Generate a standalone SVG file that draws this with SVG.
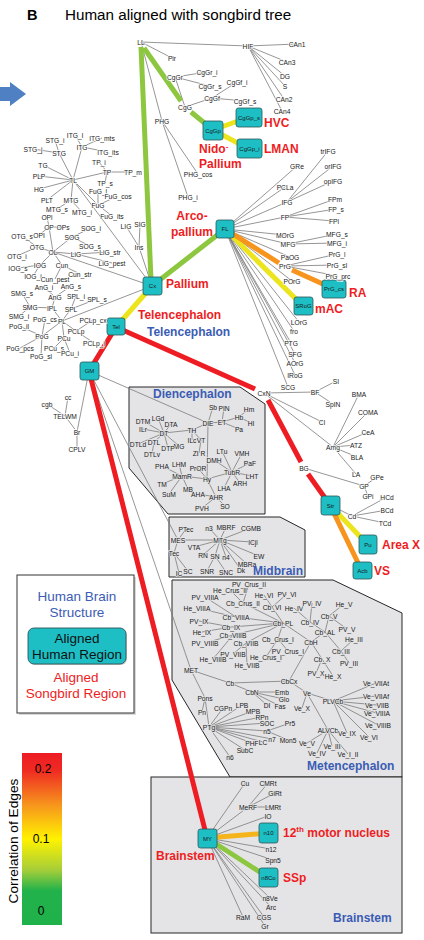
<svg xmlns="http://www.w3.org/2000/svg" width="424" height="940" viewBox="0 0 424 940">
<defs>
<linearGradient id="cbar" x1="0" y1="0" x2="0" y2="1">
<stop offset="0" stop-color="#ed1c24"/><stop offset="0.1" stop-color="#ef2a22"/><stop offset="0.3" stop-color="#f7941d"/><stop offset="0.5" stop-color="#fff200"/><stop offset="0.68" stop-color="#a6ce39"/><stop offset="0.8" stop-color="#22b24b"/><stop offset="1" stop-color="#1fb14a"/>
</linearGradient>
<style>
.t{font-family:"Liberation Sans",Arial,sans-serif;font-size:6.7px;fill:#1a1a1a;text-anchor:middle;dominant-baseline:central;paint-order:stroke;stroke:#fff;stroke-width:1.5px;stroke-linejoin:round}
.k{stroke:#e4e4e6}
.bx{fill:#1dbec4;stroke:#2f5558;stroke-width:0.8}
.bt{font-family:"Liberation Sans",Arial,sans-serif;font-size:6px;fill:#1a1a1a;text-anchor:middle;dominant-baseline:central}
.rl{font-family:"Liberation Sans",Arial,sans-serif;font-weight:bold;font-size:12px;fill:#ee1d23}
.bl{font-family:"Liberation Sans",Arial,sans-serif;font-weight:bold;font-size:12px;fill:#3b5cb4}
.reg{fill:#e4e4e6;stroke:#262626;stroke-width:1}
.e{fill:none;stroke:#7b7b7b;stroke-width:0.8}
.w{fill:none;stroke-width:5}
.r{stroke:#ee1d23}.l{stroke:#8dc63f}.y{stroke:#ece41c}.o{stroke:#f7941d}.yo{stroke:#f5b41c}
.lg{font-family:"Liberation Sans",Arial,sans-serif;font-size:13.5px;text-anchor:middle}
</style>
</defs>
<rect width="424" height="940" fill="#fff"/>
<text x="27" y="20" font-family="Liberation Sans,Arial,sans-serif" font-weight="bold" font-size="14.5">B</text>
<text x="65" y="20" font-family="Liberation Sans,Arial,sans-serif" font-size="15.2">Human aligned with songbird tree</text>
<polygon points="0,87 10,87 10,82 26,94 10,106 10,101 0,101" fill="#4f80c3"/>

<g id="regions">
<polygon class="reg" points="129,387 240,387 265,404 265,514 168,514 129,468"/>
<polygon class="reg" points="169,517 280,517 305,530 305,577 169,577"/>
<polygon class="reg" points="172,580 333,580 402,613 402,777 230,777 172,680"/>
<rect class="reg" x="151" y="777" width="251" height="156"/>
</g>

<g id="connectors">
<path class="e" d="M141 42L248 46M141 42L172 58M141 42L162 121M248 46L297 44M248 46L287 62M248 46L285 76M248 46L285 86M248 46L284 99M248 46L282 111M185 107L175 77M185 107L212 98M175 77L207 72M175 77L210 86M212 98L237 82M212 98L245 101M162 121L198 174M162 121L188 197"/>
<path class="e" d="M73 180L152 286M73 180L59 153M73 180L82 147M73 180L43 165M73 180L39 176M73 180L39 189M73 180L47 200M73 180L71 200M73 180L107 172M73 180L98 205M59 153L55 140M59 153L33 149M82 147L75 135M82 147L102 138M82 147L108 152M107 172L99 162M107 172L133 172M107 172L105 183M98 205L98 191M98 205L118 196M98 205L112 216M71 200L57 209M71 200L82 212"/>
<path class="e" d="M53 252L152 286M53 252L49 227M53 252L37 247M53 252L40 265M53 252L62 265M53 252L72 237M53 252L76 254M49 227L47 217M49 227L63 227M49 227L39 235M37 247L22 236M37 247L17 256M40 265L18 268M40 265L33 276M62 265L80 274M62 265L55 279M72 237L91 228M72 237L90 246M76 254L110 252M76 254L112 263M139 247L152 286M139 247L126 226M139 247L140 224"/>
<path class="e" d="M62 321L152 286M62 321L52 308M62 321L71 309M62 321L42 336M62 321L76 331M62 321L64 338M52 308L55 297M52 308L30 307M55 297L44 287M55 297L71 286M30 307L22 293M30 307L19 316M71 309L76 296M71 309L97 299M42 336L45 319M42 336L19 326M42 336L20 348M42 336L41 356M76 331L93 320M76 331L94 343M64 338L54 348M64 338L70 353"/>
<path class="e" d="M225 229L297 166M225 229L285 187M225 229L287 202M225 229L285 217M225 229L285 235M225 229L288 244M225 229L290 257M225 229L292 281M225 229L299 322M225 229L294 331M225 229L291 343M225 229L295 354M225 229L295 363M225 229L295 375M225 229L288 387M287 202L328 151M287 202L333 166M287 202L333 181M285 217L335 199M285 217L336 209M285 217L334 221M288 244L337 234M288 244L337 243M285 266L337 254M285 266L337 265M285 266L338 276"/>
<path class="e" d="M264 393L315 392M264 393L322 422M264 393L333 447M315 392L336 381M315 392L333 404M333 447L359 394M333 447L368 412M333 447L368 432M333 447L356 445M333 447L357 457M333 447L356 474M304 468L364 486M364 486L377 477M364 486L368 496M330 505L352 516M352 516L387 497M352 516L387 510M352 516L385 523"/>
<path class="e" d="M89 371L208 423M89 371L178 540M89 371L191 670M89 371L77 432M77 432L65 416M65 416L68 397M65 416L47 404M77 432L77 449"/>
<path class="e" d="M208 423L213 407M208 423L222 422M208 423L192 430M208 423L207 479M222 422L224 408M222 422L239 417M222 422L239 429M239 417L249 409M239 417L251 423M192 430L164 433M192 430L192 440M192 430L201 440M164 433L143 421M164 433L158 418M164 433L171 424M164 433L143 429M164 433L138 444M164 433L154 442M164 433L168 448M164 433L179 446M154 442L152 454M201 440L199 453M207 479L232 472M207 479L182 476M207 479L198 468M207 479L216 497M232 472L222 451M232 472L242 453M232 472L214 460M232 472L250 463M232 472L252 476M232 472L240 483M232 472L224 488M182 476L162 466M182 476L179 464M182 476L162 484M182 476L169 494M182 476L188 489M216 497L198 494M216 497L225 506M216 497L202 508"/>
<path class="e" d="M178 540L186 529M178 540L220 540M178 540L174 553M174 553L188 571M174 553L179 573M220 540L209 528M220 540L226 527M220 540L251 528M220 540L253 542M220 540L194 547M220 540L203 555M220 540L215 556M220 540L226 557M220 540L259 556M220 540L247 564M220 540L241 570M215 556L207 571M215 556L226 572"/>
<path class="e" d="M191 670L230 683M191 670L205 698M205 698L202 712M205 698L209 727M209 727L223 708M209 727L242 705M209 727L253 711M209 727L262 717M209 727L267 723M209 727L267 731M209 727L272 739M209 727L263 742M209 727L252 743M209 727L245 750M209 727L230 757M267 731L290 723M267 731L288 740M230 683L289 681M230 683L252 692M252 692L282 692M252 692L284 699M252 692L267 705M252 692L280 706M289 681L311 642M289 681L307 693M311 642L283 623M311 642L325 632M311 642L322 659"/>
<path class="e" d="M283 623L243 603M283 623L272 607M283 623L236 617M283 623L231 627M283 623L233 635M283 623L246 643M283 623L278 639M243 603L249 584M243 603L230 590M272 607L264 595M272 607L287 594M236 617L205 597M236 617L197 608M231 627L199 621M231 627L202 632M233 635L205 643M233 635L213 659M246 643L233 654M246 643L247 665M278 639L288 651M278 639L266 657M325 632L310 622M325 632L329 616M325 632L341 651M310 622L294 608M310 622L312 603M329 616L344 604M329 616L347 629M341 651L354 639M341 651L349 663M322 659L316 673M322 659L333 676"/>
<path class="e" d="M307 693L302 708M307 693L333 701M307 693L328 730M333 701L376 683M333 701L376 696M333 701L377 705M333 701L377 713M333 701L378 725M333 701L347 733M333 701L369 737M328 730L307 743M328 730L317 753M328 730L332 746M328 730L348 754"/>
<path class="e" d="M207 838L245 783M207 838L248 807M207 838L268 816M207 838L271 849M207 838L273 860M207 838L270 898M207 838L271 907M207 838L243 917M207 838L264 917M207 838L265 926M248 807L268 783M248 807L275 793M248 807L273 807"/>
<path class="w r" d="M116 327L255 389M116 327L89 371M89 371L207 838M268 400L301 462M308 474L330 505"/>
<path class="w l" d="M141 47L151 280M144 48L181 101M191 112L213 130M152 286L225 229M207 838L269 878"/>
<path class="w y" d="M213 130L249 117M213 130L249 149M116 327L152 286M225 229L303 306M330 505L368 545"/>
<path class="w o" d="M225 229L279 263M292 270L334 289M330 505L362 571"/>
<path class="w yo" d="M207 838L269 833"/>
</g>

<g id="boxes">
<g id="b-CgGp"><rect class="bx" x="203" y="121" width="20" height="19" rx="2.5"/><text class="bt" x="213" y="130.5">CgGp</text></g>
<g id="b-CgGp_s"><rect class="bx" x="236" y="108" width="26" height="19" rx="2.5"/><text class="bt" x="249" y="117.5">CgGp_s</text></g>
<g id="b-CgGp_i"><rect class="bx" x="237" y="139" width="25" height="19" rx="2.5"/><text class="bt" x="249.5" y="148.5">CgGp_i</text></g>
<g id="b-Cx"><rect class="bx" x="143" y="277" width="19" height="18" rx="2.5"/><text class="bt" x="152.5" y="286">Cx</text></g>
<g id="b-Tel"><rect class="bx" x="107" y="318" width="18" height="17" rx="2.5"/><text class="bt" x="116" y="326.5">Tel</text></g>
<g id="b-GM"><rect class="bx" x="80" y="362" width="19" height="18" rx="2.5"/><text class="bt" x="89.5" y="371">GM</text></g>
<g id="b-FL"><rect class="bx" x="216" y="220" width="18" height="18" rx="2.5"/><text class="bt" x="225" y="229">FL</text></g>
<g id="b-PrG_cs"><rect class="bx" x="322" y="280" width="24" height="18" rx="2.5"/><text class="bt" x="334" y="289">PrG_cs</text></g>
<g id="b-SRoG"><rect class="bx" x="294" y="297" width="19" height="18" rx="2.5"/><text class="bt" x="303.5" y="306">SRoG</text></g>
<g id="b-Str"><rect class="bx" x="321" y="496" width="19" height="19" rx="2.5"/><text class="bt" x="330.5" y="505.5">Str</text></g>
<g id="b-Pu"><rect class="bx" x="359" y="535" width="18" height="19" rx="2.5"/><text class="bt" x="368" y="544.5">Pu</text></g>
<g id="b-Acb"><rect class="bx" x="353" y="562" width="19" height="17" rx="2.5"/><text class="bt" x="362.5" y="570.5">Acb</text></g>
<g id="b-MY"><rect class="bx" x="198" y="829" width="19" height="19" rx="2.5"/><text class="bt" x="207.5" y="838.5">MY</text></g>
<g id="b-n10"><rect class="bx" x="259" y="823" width="19" height="20" rx="2.5"/><text class="bt" x="268.5" y="833">n10</text></g>
<g id="b-n8Co"><rect class="bx" x="259" y="868" width="19" height="19" rx="2.5"/><text class="bt" x="268.5" y="877.5">n8Co</text></g>
</g>

<g id="nodes">
<g id="n-LL"><text class="t" x="141" y="42">LL</text></g>
<g id="n-HIF"><text class="t" x="248" y="46">HIF</text></g>
<g id="n-Pir"><text class="t" x="172" y="58">Pir</text></g>
<g id="n-CAn1"><text class="t" x="297" y="44">CAn1</text></g>
<g id="n-CAn3"><text class="t" x="287" y="62">CAn3</text></g>
<g id="n-DG"><text class="t" x="285" y="76">DG</text></g>
<g id="n-S"><text class="t" x="285" y="86">S</text></g>
<g id="n-CAn2"><text class="t" x="284" y="99">CAn2</text></g>
<g id="n-CAn4"><text class="t" x="282" y="111">CAn4</text></g>
<g id="n-CgGr"><text class="t" x="175" y="77">CgGr</text></g>
<g id="n-CgGr_i"><text class="t" x="207" y="72">CgGr_i</text></g>
<g id="n-CgGr_s"><text class="t" x="210" y="86">CgGr_s</text></g>
<g id="n-CgGf_i"><text class="t" x="237" y="82">CgGf_i</text></g>
<g id="n-CgGf"><text class="t" x="212" y="98">CgGf</text></g>
<g id="n-CgGf_s"><text class="t" x="245" y="101">CgGf_s</text></g>
<g id="n-CgG"><text class="t" x="185" y="107">CgG</text></g>
<g id="n-PHG"><text class="t" x="162" y="121">PHG</text></g>
<g id="n-PHG_cos"><text class="t" x="198" y="174">PHG_cos</text></g>
<g id="n-PHG_i"><text class="t" x="188" y="197">PHG_i</text></g>
<g id="n-TL"><text class="t" x="73" y="180">TL</text></g>
<g id="n-STG"><text class="t" x="59" y="153">STG</text></g>
<g id="n-STG_i"><text class="t" x="55" y="140">STG_i</text></g>
<g id="n-STG_j"><text class="t" x="33" y="149">STG_j</text></g>
<g id="n-ITG"><text class="t" x="82" y="147">ITG</text></g>
<g id="n-ITG_l"><text class="t" x="75" y="135">ITG_l</text></g>
<g id="n-ITG_mts"><text class="t" x="102" y="138">ITG_mts</text></g>
<g id="n-ITG_its"><text class="t" x="108" y="152">ITG_its</text></g>
<g id="n-TG"><text class="t" x="43" y="165">TG</text></g>
<g id="n-PLP"><text class="t" x="39" y="176">PLP</text></g>
<g id="n-HG"><text class="t" x="39" y="189">HG</text></g>
<g id="n-PLT"><text class="t" x="47" y="200">PLT</text></g>
<g id="n-MTG"><text class="t" x="71" y="200">MTG</text></g>
<g id="n-MTG_s"><text class="t" x="57" y="209">MTG_s</text></g>
<g id="n-MTG_i"><text class="t" x="82" y="212">MTG_i</text></g>
<g id="n-TP"><text class="t" x="107" y="172">TP</text></g>
<g id="n-TP_i"><text class="t" x="99" y="162">TP_i</text></g>
<g id="n-TP_m"><text class="t" x="133" y="172">TP_m</text></g>
<g id="n-TP_s"><text class="t" x="105" y="183">TP_s</text></g>
<g id="n-FuG"><text class="t" x="98" y="205">FuG</text></g>
<g id="n-FuG_l"><text class="t" x="98" y="191">FuG_l</text></g>
<g id="n-FuG_cos"><text class="t" x="118" y="196">FuG_cos</text></g>
<g id="n-FuG_its"><text class="t" x="112" y="216">FuG_its</text></g>
<g id="n-OL"><text class="t" x="53" y="252">OL</text></g>
<g id="n-OP"><text class="t" x="49" y="227">OP</text></g>
<g id="n-OPl"><text class="t" x="47" y="217">OPl</text></g>
<g id="n-OPs"><text class="t" x="63" y="227">OPs</text></g>
<g id="n-OPi"><text class="t" x="39" y="235">OPI</text></g>
<g id="n-OTG"><text class="t" x="37" y="247">OTG</text></g>
<g id="n-OTG_s"><text class="t" x="22" y="236">OTG_s</text></g>
<g id="n-OTG_i"><text class="t" x="17" y="256">OTG_i</text></g>
<g id="n-IOG"><text class="t" x="40" y="265">IOG</text></g>
<g id="n-IOG_s"><text class="t" x="18" y="268">IOG_s</text></g>
<g id="n-IOG_i"><text class="t" x="33" y="276">IOG_i</text></g>
<g id="n-Cun"><text class="t" x="62" y="265">Cun</text></g>
<g id="n-Cun_str"><text class="t" x="80" y="274">Cun_str</text></g>
<g id="n-Cun_pest"><text class="t" x="55" y="279">Cun_pest</text></g>
<g id="n-SOG"><text class="t" x="72" y="237">SOG</text></g>
<g id="n-SOG_i"><text class="t" x="91" y="228">SOG_i</text></g>
<g id="n-SOG_s"><text class="t" x="90" y="246">SOG_s</text></g>
<g id="n-LiG"><text class="t" x="76" y="254">LiG</text></g>
<g id="n-LiG_str"><text class="t" x="110" y="252">LiG_str</text></g>
<g id="n-LiG_pest"><text class="t" x="112" y="263">LiG_pest</text></g>
<g id="n-Ins"><text class="t" x="139" y="247">Ins</text></g>
<g id="n-LIG"><text class="t" x="126" y="226">LIG</text></g>
<g id="n-SIG"><text class="t" x="140" y="224">SIG</text></g>
<g id="n-PL"><text class="t" x="62" y="321">PL</text></g>
<g id="n-IPL"><text class="t" x="52" y="308">IPL</text></g>
<g id="n-AnG"><text class="t" x="55" y="297">AnG</text></g>
<g id="n-AnG_i"><text class="t" x="44" y="287">AnG_i</text></g>
<g id="n-AnG_s"><text class="t" x="71" y="286">AnG_s</text></g>
<g id="n-SMG"><text class="t" x="30" y="307">SMG</text></g>
<g id="n-SMG_s"><text class="t" x="22" y="293">SMG_s</text></g>
<g id="n-SMG_i"><text class="t" x="19" y="316">SMG_i</text></g>
<g id="n-SPL"><text class="t" x="71" y="309">SPL</text></g>
<g id="n-SPL_i"><text class="t" x="76" y="296">SPL_i</text></g>
<g id="n-SPL_s"><text class="t" x="97" y="299">SPL_s</text></g>
<g id="n-PoG"><text class="t" x="42" y="336">PoG</text></g>
<g id="n-PoG_cs"><text class="t" x="45" y="319">PoG_cs</text></g>
<g id="n-PoG_il"><text class="t" x="19" y="326">PoG_il</text></g>
<g id="n-PoG_pcs"><text class="t" x="20" y="348">PoG_pcs</text></g>
<g id="n-PoG_sl"><text class="t" x="41" y="356">PoG_sl</text></g>
<g id="n-PCLp"><text class="t" x="76" y="331">PCLp</text></g>
<g id="n-PCLp_cx"><text class="t" x="93" y="320">PCLp_cx</text></g>
<g id="n-PCLp_i"><text class="t" x="94" y="343">PCLp_i</text></g>
<g id="n-PCu"><text class="t" x="64" y="338">PCu</text></g>
<g id="n-PCu_s"><text class="t" x="54" y="348">PCu_s</text></g>
<g id="n-PCu_i"><text class="t" x="70" y="353">PCu_i</text></g>
<g id="n-GRe"><text class="t" x="297" y="166">GRe</text></g>
<g id="n-trIFG"><text class="t" x="328" y="151">trIFG</text></g>
<g id="n-orIFG"><text class="t" x="333" y="166">orIFG</text></g>
<g id="n-opIFG"><text class="t" x="333" y="181">opIFG</text></g>
<g id="n-PCLa"><text class="t" x="285" y="187">PCLa</text></g>
<g id="n-IFG"><text class="t" x="287" y="202">IFG</text></g>
<g id="n-FPm"><text class="t" x="335" y="199">FPm</text></g>
<g id="n-FP_s"><text class="t" x="336" y="209">FP_s</text></g>
<g id="n-FP"><text class="t" x="285" y="217">FP</text></g>
<g id="n-FPl"><text class="t" x="334" y="221">FPl</text></g>
<g id="n-MOrG"><text class="t" x="285" y="235">MOrG</text></g>
<g id="n-MFG_s"><text class="t" x="337" y="234">MFG_s</text></g>
<g id="n-MFG"><text class="t" x="288" y="244">MFG</text></g>
<g id="n-MFG_i"><text class="t" x="337" y="243">MFG_i</text></g>
<g id="n-PaOG"><text class="t" x="290" y="257">PaOG</text></g>
<g id="n-PrG_l"><text class="t" x="337" y="254">PrG_l</text></g>
<g id="n-PrG"><text class="t" x="285" y="266">PrG</text></g>
<g id="n-PrG_sl"><text class="t" x="337" y="265">PrG_sl</text></g>
<g id="n-PrG_prc"><text class="t" x="338" y="276">PrG_prc</text></g>
<g id="n-POrG"><text class="t" x="292" y="281">POrG</text></g>
<g id="n-LOrG"><text class="t" x="299" y="322">LOrG</text></g>
<g id="n-fro"><text class="t" x="294" y="331">fro</text></g>
<g id="n-PTG"><text class="t" x="291" y="343">PTG</text></g>
<g id="n-SFG"><text class="t" x="295" y="354">SFG</text></g>
<g id="n-AOrG"><text class="t" x="295" y="363">AOrG</text></g>
<g id="n-IRoG"><text class="t" x="295" y="375">IRoG</text></g>
<g id="n-SCG"><text class="t" x="288" y="387">SCG</text></g>
<g id="n-CxN"><text class="t" x="264" y="393">CxN</text></g>
<g id="n-BF"><text class="t" x="315" y="392">BF</text></g>
<g id="n-SI"><text class="t" x="336" y="381">SI</text></g>
<g id="n-SpIN"><text class="t" x="333" y="404">SpIN</text></g>
<g id="n-BMA"><text class="t" x="359" y="394">BMA</text></g>
<g id="n-COMA"><text class="t" x="368" y="412">COMA</text></g>
<g id="n-Cl"><text class="t" x="322" y="422">Cl</text></g>
<g id="n-CeA"><text class="t" x="368" y="432">CeA</text></g>
<g id="n-Amg"><text class="t" x="333" y="447">Amg</text></g>
<g id="n-ATZ"><text class="t" x="356" y="445">ATZ</text></g>
<g id="n-BLA"><text class="t" x="357" y="457">BLA</text></g>
<g id="n-LA"><text class="t" x="356" y="474">LA</text></g>
<g id="n-BG"><text class="t" x="304" y="468">BG</text></g>
<g id="n-GPe"><text class="t" x="377" y="477">GPe</text></g>
<g id="n-GP"><text class="t" x="364" y="486">GP</text></g>
<g id="n-GPi"><text class="t" x="368" y="496">GPi</text></g>
<g id="n-HCd"><text class="t" x="387" y="497">HCd</text></g>
<g id="n-Cd"><text class="t" x="352" y="516">Cd</text></g>
<g id="n-BCd"><text class="t" x="387" y="510">BCd</text></g>
<g id="n-TCd"><text class="t" x="385" y="523">TCd</text></g>
<g id="n-cc"><text class="t" x="68" y="397">cc</text></g>
<g id="n-cgb"><text class="t" x="47" y="404">cgb</text></g>
<g id="n-TELWM"><text class="t" x="65" y="416">TELWM</text></g>
<g id="n-Br"><text class="t" x="77" y="432">Br</text></g>
<g id="n-CPLV"><text class="t" x="77" y="449">CPLV</text></g>
<g id="n-Sb"><text class="t k" x="213" y="407">Sb</text></g>
<g id="n-PIN"><text class="t k" x="224" y="408">PIN</text></g>
<g id="n-Hm"><text class="t k" x="249" y="409">Hm</text></g>
<g id="n-DIE"><text class="t k" x="208" y="423">DIE</text></g>
<g id="n-ET"><text class="t k" x="222" y="422">ET</text></g>
<g id="n-Hb"><text class="t k" x="239" y="417">Hb</text></g>
<g id="n-HI"><text class="t k" x="251" y="423">HI</text></g>
<g id="n-Pa"><text class="t k" x="239" y="429">Pa</text></g>
<g id="n-DTM"><text class="t k" x="143" y="421">DTM</text></g>
<g id="n-LGd"><text class="t k" x="158" y="418">LGd</text></g>
<g id="n-DTA"><text class="t k" x="171" y="424">DTA</text></g>
<g id="n-ILr"><text class="t k" x="143" y="429">ILr</text></g>
<g id="n-DT"><text class="t k" x="164" y="433">DT</text></g>
<g id="n-TH"><text class="t k" x="192" y="430">TH</text></g>
<g id="n-DTLd"><text class="t k" x="138" y="444">DTLd</text></g>
<g id="n-DTL"><text class="t k" x="154" y="442">DTL</text></g>
<g id="n-ILc"><text class="t k" x="192" y="440">ILc</text></g>
<g id="n-VT"><text class="t k" x="201" y="440">VT</text></g>
<g id="n-MG"><text class="t k" x="179" y="446">MG</text></g>
<g id="n-DTP"><text class="t k" x="168" y="448">DTP</text></g>
<g id="n-DTLv"><text class="t k" x="152" y="454">DTLv</text></g>
<g id="n-ZIR"><text class="t k" x="199" y="453">ZI R</text></g>
<g id="n-LTu"><text class="t k" x="222" y="451">LTu</text></g>
<g id="n-VMH"><text class="t k" x="242" y="453">VMH</text></g>
<g id="n-DMH"><text class="t k" x="214" y="460">DMH</text></g>
<g id="n-PaF"><text class="t k" x="250" y="463">PaF</text></g>
<g id="n-TubR"><text class="t k" x="232" y="472">TubR</text></g>
<g id="n-LHT"><text class="t k" x="252" y="476">LHT</text></g>
<g id="n-PHA"><text class="t k" x="162" y="466">PHA</text></g>
<g id="n-LHM"><text class="t k" x="179" y="464">LHM</text></g>
<g id="n-PrOR"><text class="t k" x="198" y="468">PrOR</text></g>
<g id="n-MamR"><text class="t k" x="182" y="476">MamR</text></g>
<g id="n-Hy"><text class="t k" x="207" y="479">Hy</text></g>
<g id="n-ARH"><text class="t k" x="240" y="483">ARH</text></g>
<g id="n-LHA"><text class="t k" x="224" y="488">LHA</text></g>
<g id="n-TM"><text class="t k" x="162" y="484">TM</text></g>
<g id="n-MB"><text class="t k" x="188" y="489">MB</text></g>
<g id="n-SuM"><text class="t k" x="169" y="494">SuM</text></g>
<g id="n-AHA"><text class="t k" x="198" y="494">AHA</text></g>
<g id="n-AHR"><text class="t k" x="216" y="497">AHR</text></g>
<g id="n-SO"><text class="t k" x="225" y="506">SO</text></g>
<g id="n-PVH"><text class="t k" x="202" y="508">PVH</text></g>
<g id="n-PTec"><text class="t k" x="186" y="529">PTec</text></g>
<g id="n-n3"><text class="t k" x="209" y="528">n3</text></g>
<g id="n-MBRF"><text class="t k" x="226" y="527">MBRF</text></g>
<g id="n-CGMB"><text class="t k" x="251" y="528">CGMB</text></g>
<g id="n-MES"><text class="t k" x="178" y="540">MES</text></g>
<g id="n-MTg"><text class="t k" x="220" y="540">MTg</text></g>
<g id="n-ICjl"><text class="t k" x="253" y="542">ICjl</text></g>
<g id="n-VTA"><text class="t k" x="194" y="547">VTA</text></g>
<g id="n-Tec"><text class="t k" x="174" y="553">Tec</text></g>
<g id="n-RN"><text class="t k" x="203" y="555">RN</text></g>
<g id="n-SN"><text class="t k" x="215" y="556">SN</text></g>
<g id="n-n4"><text class="t k" x="226" y="557">n4</text></g>
<g id="n-EW"><text class="t k" x="259" y="556">EW</text></g>
<g id="n-MBRa"><text class="t k" x="247" y="564">MBRa</text></g>
<g id="n-SC"><text class="t k" x="188" y="571">SC</text></g>
<g id="n-IC"><text class="t k" x="179" y="573">IC</text></g>
<g id="n-SNR"><text class="t k" x="207" y="571">SNR</text></g>
<g id="n-SNC"><text class="t k" x="226" y="572">SNC</text></g>
<g id="n-Dk"><text class="t k" x="241" y="570">Dk</text></g>
<g id="n-PV_Crus_II"><text class="t k" x="249" y="584">PV_Crus_II</text></g>
<g id="n-He_Crus_II"><text class="t k" x="230" y="590">He_Crus_II</text></g>
<g id="n-He_VI"><text class="t k" x="264" y="595">He_VI</text></g>
<g id="n-PV_VI"><text class="t k" x="287" y="594">PV_VI</text></g>
<g id="n-PV_VIIIA"><text class="t k" x="205" y="597">PV_VIIIA</text></g>
<g id="n-Cb_Crus_II"><text class="t k" x="243" y="603">Cb_Crus_II</text></g>
<g id="n-Cb_VI"><text class="t k" x="272" y="607">Cb_VI</text></g>
<g id="n-He_IV"><text class="t k" x="294" y="608">He_IV</text></g>
<g id="n-PV_IV"><text class="t k" x="312" y="603">PV_IV</text></g>
<g id="n-He_V"><text class="t k" x="344" y="604">He_V</text></g>
<g id="n-He_VIIIA"><text class="t k" x="197" y="608">He_VIIIA</text></g>
<g id="n-Cb_VIIIA"><text class="t k" x="236" y="617">Cb_VIIIA</text></g>
<g id="n-Cb_IV"><text class="t k" x="310" y="622">Cb_IV</text></g>
<g id="n-Cb_V"><text class="t k" x="329" y="616">Cb_V</text></g>
<g id="n-PV_IX"><text class="t k" x="199" y="621">PV_IX</text></g>
<g id="n-Cb_PL"><text class="t k" x="283" y="623">Cb_PL</text></g>
<g id="n-Cb_IX"><text class="t k" x="231" y="627">Cb_IX</text></g>
<g id="n-PV_V"><text class="t k" x="347" y="629">PV_V</text></g>
<g id="n-He_IX"><text class="t k" x="202" y="632">He_IX</text></g>
<g id="n-Cb_AL"><text class="t k" x="325" y="632">Cb_AL</text></g>
<g id="n-Cb_VIIIB"><text class="t k" x="233" y="635">Cb_VIIIB</text></g>
<g id="n-Cb_Crus_I"><text class="t k" x="278" y="639">Cb_Crus_I</text></g>
<g id="n-CbH"><text class="t k" x="311" y="642">CbH</text></g>
<g id="n-He_III"><text class="t k" x="354" y="639">He_III</text></g>
<g id="n-PV_VIIIB"><text class="t k" x="205" y="643">PV_VIIIB</text></g>
<g id="n-Cb_VIIB"><text class="t k" x="246" y="643">Cb_VIIB</text></g>
<g id="n-PV_Crus_I"><text class="t k" x="288" y="651">PV_Crus_I</text></g>
<g id="n-Cb_III"><text class="t k" x="341" y="651">Cb_III</text></g>
<g id="n-PV_VIIB"><text class="t k" x="233" y="654">PV_VIIB</text></g>
<g id="n-He_VIIIB"><text class="t k" x="213" y="659">He_VIIIB</text></g>
<g id="n-He_Crus_I"><text class="t k" x="266" y="657">He_Crus_I</text></g>
<g id="n-PV_III"><text class="t k" x="349" y="663">PV_III</text></g>
<g id="n-Cb_X"><text class="t k" x="322" y="659">Cb_X</text></g>
<g id="n-He_VIIB"><text class="t k" x="247" y="665">He_VIIB</text></g>
<g id="n-MET"><text class="t k" x="191" y="670">MET</text></g>
<g id="n-PV_X"><text class="t k" x="316" y="673">PV_X</text></g>
<g id="n-He_X"><text class="t k" x="333" y="676">He_X</text></g>
<g id="n-Cb"><text class="t k" x="230" y="683">Cb</text></g>
<g id="n-CbCx"><text class="t k" x="289" y="681">CbCx</text></g>
<g id="n-Ve_VIIAt"><text class="t k" x="376" y="683">Ve_VIIAt</text></g>
<g id="n-CbN"><text class="t k" x="252" y="692">CbN</text></g>
<g id="n-Emb"><text class="t k" x="282" y="692">Emb</text></g>
<g id="n-Ve"><text class="t k" x="307" y="693">Ve</text></g>
<g id="n-Ve_VIIAf"><text class="t k" x="376" y="696">Ve_VIIAf</text></g>
<g id="n-Pons"><text class="t k" x="205" y="698">Pons</text></g>
<g id="n-Glo"><text class="t k" x="284" y="699">Glo</text></g>
<g id="n-PLVCb"><text class="t k" x="333" y="701">PLVCb</text></g>
<g id="n-Ve_VIIB"><text class="t k" x="377" y="705">Ve_VIIB</text></g>
<g id="n-DI"><text class="t k" x="267" y="705">DI</text></g>
<g id="n-Fas"><text class="t k" x="280" y="706">Fas</text></g>
<g id="n-Ve_X"><text class="t k" x="302" y="708">Ve_X</text></g>
<g id="n-Pn"><text class="t k" x="202" y="712">Pn</text></g>
<g id="n-CGPn"><text class="t k" x="223" y="708">CGPn</text></g>
<g id="n-LPB"><text class="t k" x="242" y="705">LPB</text></g>
<g id="n-MPB"><text class="t k" x="253" y="711">MPB</text></g>
<g id="n-Ve_VIIIA"><text class="t k" x="377" y="713">Ve_VIIIA</text></g>
<g id="n-RPn"><text class="t k" x="262" y="717">RPn</text></g>
<g id="n-SOC"><text class="t k" x="267" y="723">SOC</text></g>
<g id="n-Pr5"><text class="t k" x="290" y="723">Pr5</text></g>
<g id="n-PTg"><text class="t k" x="209" y="727">PTg</text></g>
<g id="n-Ve_VIIIB"><text class="t k" x="378" y="725">Ve_VIIIB</text></g>
<g id="n-n5"><text class="t k" x="267" y="731">n5</text></g>
<g id="n-ALVCb"><text class="t k" x="328" y="730">ALVCb</text></g>
<g id="n-Ve_IX"><text class="t k" x="347" y="733">Ve_IX</text></g>
<g id="n-Ve_VI"><text class="t k" x="369" y="737">Ve_VI</text></g>
<g id="n-n7"><text class="t k" x="272" y="739">n7</text></g>
<g id="n-Mon5"><text class="t k" x="288" y="740">Mon5</text></g>
<g id="n-PHF"><text class="t k" x="252" y="743">PHF</text></g>
<g id="n-LC"><text class="t k" x="263" y="742">LC</text></g>
<g id="n-Ve_V"><text class="t k" x="307" y="743">Ve_V</text></g>
<g id="n-Ve_III"><text class="t k" x="332" y="746">Ve_III</text></g>
<g id="n-SubC"><text class="t k" x="245" y="750">SubC</text></g>
<g id="n-Ve_IV"><text class="t k" x="317" y="753">Ve_IV</text></g>
<g id="n-Ve_I_II"><text class="t k" x="348" y="754">Ve_I_II</text></g>
<g id="n-n6"><text class="t k" x="230" y="757">n6</text></g>
<g id="n-Cu"><text class="t k" x="245" y="783">Cu</text></g>
<g id="n-CMRt"><text class="t k" x="268" y="783">CMRt</text></g>
<g id="n-GiRt"><text class="t k" x="275" y="793">GiRt</text></g>
<g id="n-MeRF"><text class="t k" x="248" y="807">MeRF</text></g>
<g id="n-LMRt"><text class="t k" x="273" y="807">LMRt</text></g>
<g id="n-IO"><text class="t k" x="268" y="816">IO</text></g>
<g id="n-n12"><text class="t k" x="271" y="849">n12</text></g>
<g id="n-Spn5"><text class="t k" x="273" y="860">Spn5</text></g>
<g id="n-n8Ve"><text class="t k" x="270" y="898">n8Ve</text></g>
<g id="n-Arc"><text class="t k" x="271" y="907">Arc</text></g>
<g id="n-RaM"><text class="t k" x="243" y="917">RaM</text></g>
<g id="n-CGS"><text class="t k" x="264" y="917">CGS</text></g>
<g id="n-Gr"><text class="t k" x="265" y="926">Gr</text></g>
</g>

<g id="labels">
<text class="rl" x="264" y="127">HVC</text>
<text class="rl" x="264" y="153">LMAN</text>
<text class="rl" x="199" y="153">Nido<tspan font-size="8" dy="-4">-</tspan></text>
<text class="rl" x="199" y="168">Pallium</text>
<text class="rl" x="192" y="220" text-anchor="middle">Arco-</text>
<text class="rl" x="192" y="236" text-anchor="middle">pallium</text>
<text class="rl" x="166" y="288">Pallium</text>
<text class="rl" x="138" y="319">Telencephalon</text>
<text class="bl" x="147" y="336">Telencephalon</text>
<text class="rl" x="349" y="297">RA</text>
<text class="rl" x="315" y="313">mAC</text>
<text class="rl" x="382" y="549">Area X</text>
<text class="rl" x="374" y="575">VS</text>
<text class="bl" x="153" y="398">Diencephalon</text>
<text class="bl" x="253" y="575">Midbrain</text>
<text class="bl" x="307" y="770">Metencephalon</text>
<text class="bl" x="333" y="922">Brainstem</text>
<text class="rl" x="156" y="860">Brainstem</text>
<text class="rl" x="283" y="837">12<tspan font-size="8" dy="-5">th</tspan><tspan dy="5"> motor nucleus</tspan></text>
<text class="rl" x="283" y="882">SSp</text>
</g>

<g id="legend">
<rect x="19" y="577" width="117" height="138" fill="#d9d9d9"/>
<rect x="17" y="575" width="117" height="138" fill="#fff" stroke="#333" stroke-width="1"/>
<text class="lg" x="77" y="601" fill="#3b5cb4">Human Brain</text>
<text class="lg" x="77" y="617" fill="#3b5cb4">Structure</text>
<rect x="29" y="629" width="98" height="36" rx="6" fill="#d0d0d0"/>
<rect x="28" y="628" width="98" height="36" rx="6" fill="#1dbec4" stroke="#2f5558" stroke-width="0.9"/>
<text class="lg" x="77" y="643" fill="#111">Aligned</text>
<text class="lg" x="77" y="659" fill="#111">Human Region</text>
<text class="lg" x="76" y="682" fill="#ee1d23">Aligned</text>
<text class="lg" x="76" y="698" fill="#ee1d23">Songbird Region</text>
</g>

<g id="colorbar">
<rect x="22" y="753" width="40" height="172" fill="url(#cbar)"/>
<text x="43" y="773" font-family="Liberation Sans,Arial,sans-serif" font-size="12" text-anchor="middle">0.2</text>
<text x="41" y="843" font-family="Liberation Sans,Arial,sans-serif" font-size="12" text-anchor="middle">0.1</text>
<text x="41" y="915" font-family="Liberation Sans,Arial,sans-serif" font-size="12" text-anchor="middle">0</text>
<text transform="translate(18,841) rotate(-90)" font-family="Liberation Sans,Arial,sans-serif" font-size="13.7" text-anchor="middle">Correlation of Edges</text>
</g>
</svg>
